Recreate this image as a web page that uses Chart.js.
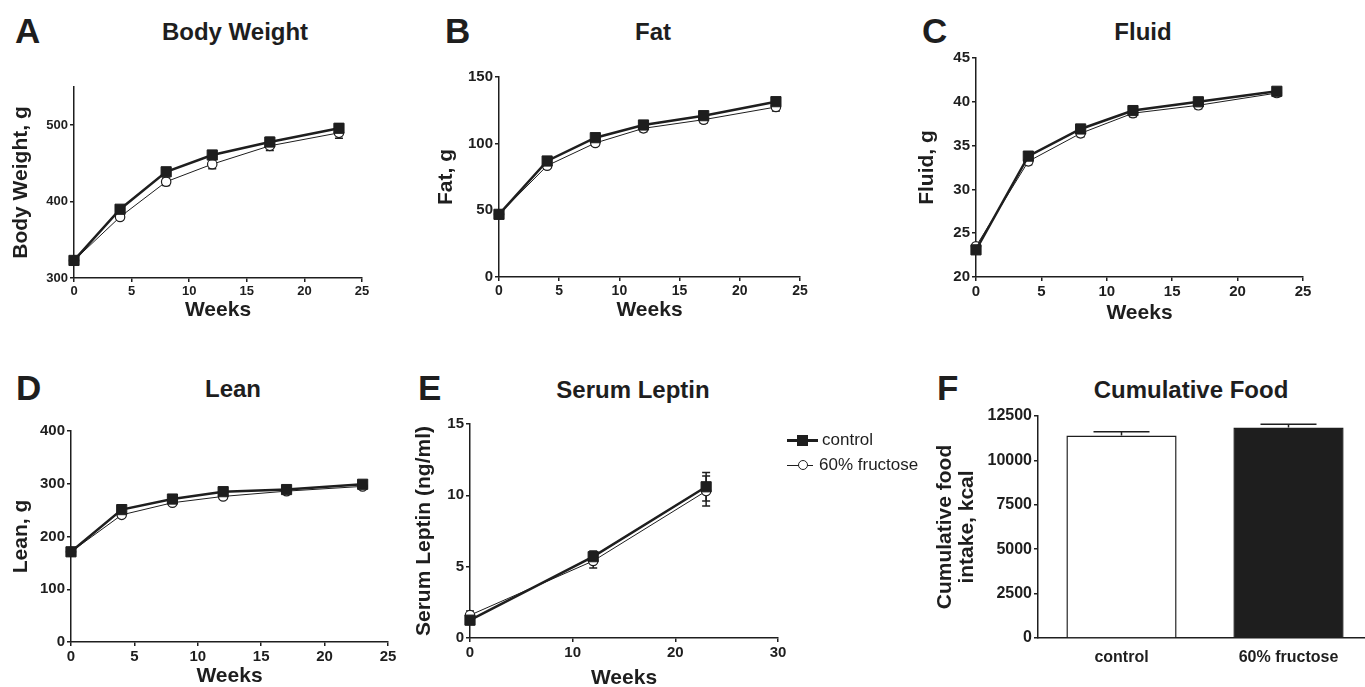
<!DOCTYPE html>
<html>
<head>
<meta charset="utf-8">
<script src="https://cdn.jsdelivr.net/npm/chart.js@4.4.0/dist/chart.umd.min.js"></script>
<style>
  body { margin: 0; width: 1365px; height: 687px; overflow: hidden; position: relative; background: #fff;
         font-family: "Liberation Sans", Arial, Helvetica, sans-serif; color: #1e1e1e; }
  canvas { position: absolute; }
  .letter { position: absolute; font-weight: bold; font-size: 35px; line-height: 35px; }
  .title { position: absolute; font-weight: bold; font-size: 24px; line-height: 24px; transform: translateX(-50%); white-space: nowrap; }
  .legtext { position: absolute; font-size: 17px; line-height: 17px; white-space: nowrap; }
  .legline { position: absolute; background: #1e1e1e; }
  .legmark { position: absolute; box-sizing: border-box; }
</style>
</head>
<body>

<div class="letter" style="left:15px;top:13px">A</div>
<div class="letter" style="left:445px;top:13px">B</div>
<div class="letter" style="left:922px;top:13px">C</div>
<div class="letter" style="left:16px;top:370px">D</div>
<div class="letter" style="left:418px;top:370px">E</div>
<div class="letter" style="left:937px;top:370px">F</div>

<div class="title" style="left:235px;top:20px">Body Weight</div>
<div class="title" style="left:653px;top:20px">Fat</div>
<div class="title" style="left:1143px;top:20px">Fluid</div>
<div class="title" style="left:233px;top:377px">Lean</div>
<div class="title" style="left:633px;top:378px">Serum Leptin</div>
<div class="title" style="left:1191px;top:378px">Cumulative Food</div>

<canvas id="chartA"></canvas>
<canvas id="chartB"></canvas>
<canvas id="chartC"></canvas>
<canvas id="chartD"></canvas>
<canvas id="chartE"></canvas>
<canvas id="chartF"></canvas>

<!-- legend for panel E -->
<div class="legline" style="left:787px;top:439px;width:31px;height:3px"></div>
<div class="legmark" style="left:797px;top:435px;width:11px;height:11px;background:#1e1e1e"></div>
<div class="legtext" style="left:822px;top:431px">control</div>
<div class="legline" style="left:787px;top:465px;width:26px;height:1px"></div>
<div class="legmark" style="left:798px;top:460px;width:10px;height:10px;border:1px solid #1e1e1e;border-radius:50%;background:#fff"></div>
<div class="legtext" style="left:819px;top:456px">60% fructose</div>

<script>
// ---- data ----
const weeks = [0, 4, 8, 12, 17, 23];
const leptinWeeks = [0, 12, 23];
const foodGroups = ['control', '60% fructose'];

const weekTicks = [0, 5, 10, 15, 20, 25];
const leptinWeekTicks = [0, 10, 20, 30];

const bwControl = [323, 390, 439, 461, 478, 496];
const bwControlSem = [3, 4, 5, 5, 6, 6];
const bwFructose = [323, 380, 426, 449, 473, 490];
const bwFructoseSem = [3, 4, 5, 6, 6, 7];
const bwTicks = [300, 400, 500];

const fatControl = [47, 87, 104.5, 114, 121, 131.5];
const fatControlSem = [1.5, 2, 2, 2.5, 2.5, 3];
const fatFructose = [47, 83.5, 100.5, 111.5, 118, 127.5];
const fatFructoseSem = [1.5, 2, 2, 2.5, 2.5, 3];
const fatTicks = [0, 50, 100, 150];

const fluidControl = [23.1, 33.8, 36.9, 39.0, 40.0, 41.2];
const fluidControlSem = [0.3, 0.4, 0.4, 0.4, 0.4, 0.4];
const fluidFructose = [23.5, 33.2, 36.4, 38.7, 39.6, 41.0];
const fluidFructoseSem = [0.3, 0.4, 0.4, 0.4, 0.4, 0.4];
const fluidTicks = [20, 25, 30, 35, 40, 45];

const leanControl = [171, 251, 271, 285, 289, 299];
const leanControlSem = [3, 4, 4, 4, 4, 4];
const leanFructose = [171, 241, 264, 276, 286, 295];
const leanFructoseSem = [3, 4, 4, 4, 4, 4];
const leanTicks = [0, 100, 200, 300, 400];

const leptinControl = [1.25, 5.7, 10.6];
const leptinControlSem = [0.3, 0.4, 1.0];
const leptinFructose = [1.6, 5.4, 10.3];
const leptinFructoseSem = [0.3, 0.5, 1.05];
const leptinTicks = [0, 5, 10, 15];

const foodMeans = [11400, 11850];
const foodSem = [220, 180];
const foodTicks = [0, 2500, 5000, 7500, 10000, 12500];

// ---- styling ----
const ink = '#1e1e1e';
const family = '"Liberation Sans", Arial, Helvetica, sans-serif';
const titleSize = 21;
const titleHalf = titleSize * 1.2 / 2;

// SEM whiskers, drawn through the chart's own y scale
const errorBarPlugin = {
  id: 'errorBars',
  beforeDatasetsDraw(chart, args, opts) { if (!opts.above) drawErrorBars(chart); },
  afterDatasetsDraw(chart, args, opts) { if (opts.above) drawErrorBars(chart); }
};

function drawErrorBars(chart) {
  const ctx = chart.ctx;
  const yScale = chart.scales.y;
  ctx.save();
  ctx.strokeStyle = ink;
  chart.data.datasets.forEach((ds, i) => {
    if (!ds.sem) return;
    const meta = chart.getDatasetMeta(i);
    const half = ds.capHalf || 4;
    ctx.lineWidth = 1.5;
    meta.data.forEach((el, j) => {
      const raw = ds.data[j];
      const v = typeof raw === 'object' ? raw.y : raw;
      const e = ds.sem[j];
      const x = el.x;
      const top = yScale.getPixelForValue(v + e);
      const bot = yScale.getPixelForValue(ds.semUpOnly ? v : v - e);
      ctx.beginPath();
      ctx.moveTo(x, top); ctx.lineTo(x, bot);
      ctx.moveTo(x - half, top); ctx.lineTo(x + half, top);
      if (!ds.semUpOnly) { ctx.moveTo(x - half, bot); ctx.lineTo(x + half, bot); }
      ctx.stroke();
    });
  });
  ctx.restore();
}

function controlSet(xs, ys, sem) {
  return {
    label: 'control',
    data: xs.map((x, i) => ({ x: x, y: ys[i] })),
    sem: sem,
    borderColor: ink, borderWidth: 2.5, tension: 0, clip: false,
    pointStyle: 'rect', pointRadius: 7.2, pointBackgroundColor: ink,
    pointBorderColor: ink, pointBorderWidth: 1
  };
}

function fructoseSet(xs, ys, sem) {
  return {
    label: '60% fructose',
    data: xs.map((x, i) => ({ x: x, y: ys[i] })),
    sem: sem,
    borderColor: ink, borderWidth: 1, tension: 0, clip: false,
    pointStyle: 'circle', pointRadius: 4.7, pointBackgroundColor: '#fff',
    pointBorderColor: ink, pointBorderWidth: 1.2
  };
}

function axisBase(tickSize) {
  return {
    border: { display: true, color: ink, width: 1.5 },
    grid: { display: true, drawOnChartArea: false, drawTicks: true, tickLength: 4, color: ink, lineWidth: 1.5 },
    ticks: { color: ink, padding: 2, autoSkip: false, maxRotation: 0,
             font: { family: family, size: tickSize, weight: 'bold' },
             callback: v => String(v) }
  };
}

function axisTitle(text, lineHeight) {
  return { display: true, text: text, color: ink, padding: 0,
           font: { family: family, size: titleSize, weight: 'bold', lineHeight: lineHeight || 1.2 } };
}

// p: plot box in page pixels + centres of the axis titles
function lineChart(id, p, xRange, xTicks, yRange, yTicks, yTitle, datasets, fonts) {
  const cx = Math.round(p.yTitleX - titleHalf);
  const cy = p.top - 12;
  const sb = Math.round(p.xTitleY + titleHalf);
  const cv = document.getElementById(id);
  cv.width = p.right + 16 - cx;
  cv.height = sb - cy;
  cv.style.left = cx + 'px';
  cv.style.top = cy + 'px';

  const x = axisBase(fonts.x);
  Object.assign(x, {
    type: 'linear', min: xRange[0], max: xRange[1],
    afterBuildTicks: s => { s.ticks = xTicks.map(v => ({ value: v })); },
    afterFit: s => { s.height = sb - p.bottom; },
    title: axisTitle('Weeks')
  });
  const y = axisBase(fonts.y);
  Object.assign(y, {
    type: 'linear', min: yRange[0], max: yRange[1],
    afterBuildTicks: s => { s.ticks = yTicks.map(v => ({ value: v })); },
    afterFit: s => { s.width = p.left - cx; },
    title: axisTitle(yTitle)
  });

  return new Chart(cv, {
    type: 'line',
    data: { datasets: datasets },
    plugins: [errorBarPlugin],
    options: {
      responsive: false, animation: false, devicePixelRatio: 1,
      layout: { padding: { left: 0, top: 12, right: 16, bottom: 0 } },
      plugins: { legend: { display: false }, tooltip: { enabled: false }, errorBars: { above: false } },
      scales: { x: x, y: y }
    }
  });
}

lineChart('chartA', { left: 74, top: 87, right: 362, bottom: 278, yTitleX: 22, xTitleY: 310 },
  [0, 25], weekTicks, [300, 550], bwTicks, 'Body Weight, g',
  [controlSet(weeks, bwControl, bwControlSem), fructoseSet(weeks, bwFructose, bwFructoseSem)],
  { x: 13, y: 13 });

lineChart('chartB', { left: 499, top: 77, right: 800, bottom: 277, yTitleX: 447, xTitleY: 310 },
  [0, 25], weekTicks, [0, 150], fatTicks, 'Fat, g',
  [controlSet(weeks, fatControl, fatControlSem), fructoseSet(weeks, fatFructose, fatFructoseSem)],
  { x: 14, y: 15 });

lineChart('chartC', { left: 976, top: 58, right: 1303, bottom: 277, yTitleX: 928, xTitleY: 313 },
  [0, 25], weekTicks, [20, 45], fluidTicks, 'Fluid, g',
  [controlSet(weeks, fluidControl, fluidControlSem), fructoseSet(weeks, fluidFructose, fluidFructoseSem)],
  { x: 15, y: 15 });

lineChart('chartD', { left: 71, top: 431, right: 388, bottom: 642, yTitleX: 22, xTitleY: 676 },
  [0, 25], weekTicks, [0, 400], leanTicks, 'Lean, g',
  [controlSet(weeks, leanControl, leanControlSem), fructoseSet(weeks, leanFructose, leanFructoseSem)],
  { x: 15, y: 15 });

lineChart('chartE', { left: 470, top: 424, right: 778, bottom: 638, yTitleX: 425, xTitleY: 678 },
  [0, 30], leptinWeekTicks, [0, 15], leptinTicks, 'Serum Leptin (ng/ml)',
  [controlSet(leptinWeeks, leptinControl, leptinControlSem), fructoseSet(leptinWeeks, leptinFructose, leptinFructoseSem)],
  { x: 15, y: 15 });

// ---- panel F: bars ----
(function () {
  const p = { left: 1038, top: 416, right: 1372, bottom: 638 };
  const cx = 934, cy = p.top - 12;
  const cv = document.getElementById('chartF');
  cv.width = p.right + 4 - cx;
  cv.height = 684 - cy;
  cv.style.left = cx + 'px';
  cv.style.top = cy + 'px';

  const y = axisBase(16);
  Object.assign(y, {
    min: 0, max: 12500,
    afterBuildTicks: s => { s.ticks = foodTicks.map(v => ({ value: v })); },
    afterFit: s => { s.width = p.left - cx; },
    title: axisTitle(['Cumulative food', 'intake, kcal'], 1.05)
  });

  new Chart(cv, {
    type: 'bar',
    data: {
      labels: foodGroups,
      datasets: [{
        data: foodMeans, sem: foodSem, semUpOnly: true, capHalf: 28,
        backgroundColor: ['#ffffff', ink], borderColor: ink, borderWidth: 1.5,
        barPercentage: 0.66, categoryPercentage: 1
      }]
    },
    plugins: [errorBarPlugin],
    options: {
      responsive: false, animation: false, devicePixelRatio: 1,
      layout: { padding: { left: 0, top: 12, right: 4, bottom: 0 } },
      plugins: { legend: { display: false }, tooltip: { enabled: false }, errorBars: { above: true } },
      scales: {
        x: {
          border: { display: true, color: ink, width: 1.5 },
          grid: { display: false },
          ticks: { color: ink, padding: 2, font: { family: family, size: 16, weight: 'bold' } },
          afterFit: s => { s.height = 684 - p.bottom; }
        },
        y: y
      }
    }
  });
})();
</script>
</body>
</html>
